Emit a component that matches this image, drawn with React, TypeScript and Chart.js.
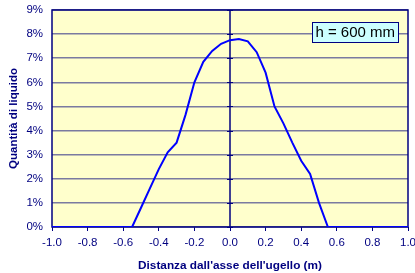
import React, { useEffect, useRef } from "react";
import { Chart, registerables } from "chart.js";

Chart.register(...registerables);

const distances = [
  -1.0, -0.95, -0.9, -0.85, -0.8, -0.75, -0.7, -0.65, -0.6, -0.55,
  -0.5, -0.45, -0.4, -0.35, -0.3, -0.25, -0.2, -0.15, -0.1, -0.05,
  0.0, 0.05, 0.1, 0.15, 0.2, 0.25, 0.3, 0.35, 0.4, 0.45,
  0.5, 0.55, 0.6, 0.65, 0.7, 0.75, 0.8, 0.85, 0.9, 0.95, 1.0,
];
const quantities = [
  0, 0, 0, 0, 0, 0, 0, 0, 0, 0,
  0.8, 1.6, 2.4, 3.1, 3.5, 4.65, 6.0, 6.85, 7.3, 7.6,
  7.75, 7.8, 7.7, 7.25, 6.4, 5.0, 4.3, 3.5, 2.75, 2.2,
  1.0, 0, 0, 0, 0, 0, 0, 0, 0, 0, 0,
];
const xTickValues = [-1.0, -0.8, -0.6, -0.4, -0.2, 0.0, 0.2, 0.4, 0.6, 0.8, 1.0];
const yTickValues = [0, 1, 2, 3, 4, 5, 6, 7, 8, 9];
const labelText = "h = 600 mm";
const xTitle = "Distanza dall'asse dell'ugello (m)";
const yTitle = "Quantità di liquido";

const NAVY = "#000080";
const FONT = "'Liberation Sans', Arial, sans-serif";

const plotPlugin = {
  id: "plotDecor",
  beforeDraw(chart: any) {
    const { ctx, chartArea } = chart;
    ctx.save();
    ctx.fillStyle = "#ffffff";
    ctx.fillRect(0, 0, chart.width, chart.height);
    ctx.fillStyle = "#FFFFCC";
    ctx.fillRect(chartArea.left, chartArea.top, chartArea.right - chartArea.left, chartArea.bottom - chartArea.top);
    ctx.restore();
  },
  beforeDatasetsDraw(chart: any) {
    const { ctx, chartArea, scales } = chart;
    const x0 = scales.x.getPixelForValue(0);
    ctx.save();
    ctx.strokeStyle = NAVY;
    ctx.lineWidth = 1.5;
    ctx.beginPath();
    ctx.moveTo(x0, chartArea.top);
    ctx.lineTo(x0, chartArea.bottom);
    ctx.stroke();
    ctx.lineWidth = 1;
    for (const v of yTickValues) {
      const y = Math.round(scales.y.getPixelForValue(v)) + 0.5;
      ctx.beginPath();
      ctx.moveTo(x0 - 3, y);
      ctx.lineTo(x0 + 3, y);
      ctx.stroke();
    }
    ctx.lineWidth = 1.5;
    ctx.strokeRect(chartArea.left, chartArea.top, chartArea.right - chartArea.left, chartArea.bottom - chartArea.top);
    ctx.restore();
  },
  afterDraw(chart: any) {
    const { ctx, chartArea } = chart;
    ctx.save();
    ctx.font = `15px ${FONT}`;
    const w = ctx.measureText(labelText).width + 6;
    const h = 20;
    const bx = chartArea.right - 10 - w;
    const by = chartArea.top + 12;
    ctx.fillStyle = "#CCFFFF";
    ctx.fillRect(bx, by, w, h);
    ctx.strokeStyle = NAVY;
    ctx.lineWidth = 1;
    ctx.strokeRect(Math.round(bx) + 0.5, Math.round(by) + 0.5, Math.round(w), h);
    ctx.fillStyle = "#000000";
    ctx.textBaseline = "middle";
    ctx.textAlign = "center";
    ctx.fillText(labelText, bx + w / 2, by + h / 2 + 1);
    ctx.restore();
  },
};

export default function App() {
  const ref = useRef<HTMLCanvasElement | null>(null);
  useEffect(() => {
    document.body.style.margin = "0";
    const canvas = ref.current;
    if (!canvas) return;
    const chart = new Chart(canvas, {
      type: "scatter",
      data: {
        datasets: [
          {
            data: distances.map((d, i) => ({ x: d, y: quantities[i] })),
            showLine: true,
            borderColor: "#0000FF",
            borderWidth: 2,
            pointRadius: 0,
            tension: 0,
          },
        ],
      },
      options: {
        animation: false,
        responsive: false,
        devicePixelRatio: 1,
        layout: { padding: { left: 0, right: 7, top: 10, bottom: 0 } },
        plugins: { legend: { display: false }, tooltip: { enabled: false } },
        scales: {
          x: {
            type: "linear",
            min: -1,
            max: 1,
            afterBuildTicks: (s: any) => {
              s.ticks = xTickValues.map((v) => ({ value: v }));
            },
            afterFit: (s: any) => {
              s.height = 46;
              s.paddingLeft = 0;
              s.paddingRight = 0;
            },
            grid: {
              drawOnChartArea: false,
              drawTicks: true,
              tickLength: 4,
              color: NAVY,
              lineWidth: 1,
            },
            border: { display: false },
            ticks: {
              color: NAVY,
              font: { family: FONT, size: 11.5 },
              padding: 5,
              maxRotation: 0,
              callback: (v: any) => Number(v).toFixed(1),
            },
            title: {
              display: true,
              text: xTitle,
              color: NAVY,
              font: { family: FONT, size: 11.8, weight: "bold" },
              padding: { top: 0, bottom: 0 },
            },
          },
          y: {
            type: "linear",
            min: 0,
            max: 9,
            afterBuildTicks: (s: any) => {
              s.ticks = yTickValues.map((v) => ({ value: v }));
            },
            afterFit: (s: any) => {
              s.width = 52;
              s.paddingTop = 0;
              s.paddingBottom = 0;
            },
            grid: {
              drawTicks: false,
              color: "#7a7aa0",
              lineWidth: 1.5,
            },
            border: { display: false },
            ticks: {
              color: NAVY,
              font: { family: FONT, size: 11.5 },
              padding: 9,
              callback: (v: any) => `${v}%`,
            },
            title: {
              display: true,
              text: yTitle,
              color: NAVY,
              font: { family: FONT, size: 11.5, weight: "bold" },
              padding: { top: 7, bottom: 0 },
            },
          },
        },
      },
      plugins: [plotPlugin],
    } as any);
    return () => chart.destroy();
  }, []);
  return (
    <div style={{ position: "absolute", left: 0, top: 0, width: 415, height: 273 }}>
      <canvas ref={ref} width={415} height={273} style={{ width: 415, height: 273 }} />
    </div>
  );
}
